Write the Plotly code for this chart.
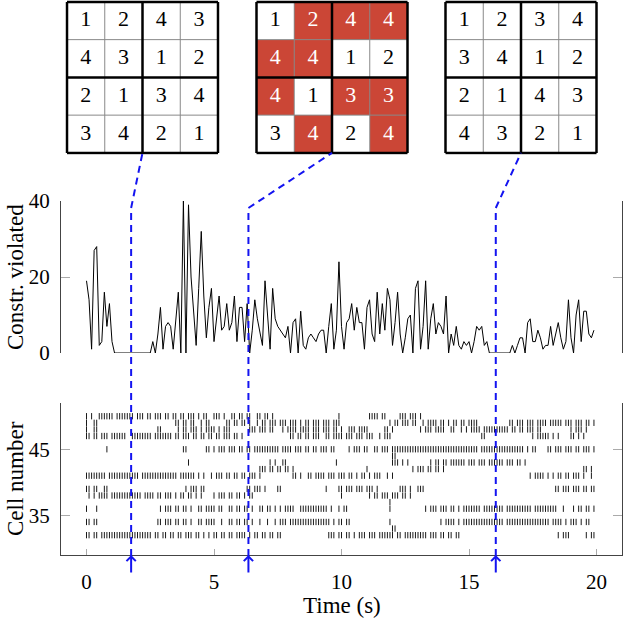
import plotly.graph_objects as go

W, H = 624, 620
RED = "#CB4636"
BLUE = "#1414F0"
SERIF = "Liberation Serif"

# three snapshots of the 4x4 board (values and violated cells)
board_start = [[1, 2, 4, 3], [4, 3, 1, 2], [2, 1, 3, 4], [3, 4, 2, 1]]
board_middle = [[1, 2, 4, 4], [4, 4, 1, 2], [4, 1, 3, 3], [3, 4, 2, 4]]
board_end = [[1, 2, 3, 4], [3, 4, 1, 2], [2, 1, 4, 3], [4, 3, 2, 1]]
violated_start = [[0, 0, 0, 0], [0, 0, 0, 0], [0, 0, 0, 0], [0, 0, 0, 0]]
violated_middle = [[0, 1, 1, 1], [1, 1, 0, 0], [1, 0, 1, 1], [0, 1, 0, 1]]
violated_end = [[0, 0, 0, 0], [0, 0, 0, 0], [0, 0, 0, 0], [0, 0, 0, 0]]
snapshot_times = [1.75, 6.35, 16.05]

# constraints violated, sampled every 0.1 s
sample_step = 0.1
constr_violated = [
    19, 14, 1, 27, 28, 2, 3, 16, 7, 13, 3,
    0, 0, 0, 0, 0, 0, 0, 0, 0, 0, 0, 0, 0, 0, 0,
    3, 0, 5, 12, 1, 7, 8, 7, 1, 9, 16, 0, 40, 0, 39,
    20, 10, 2, 17, 32, 15, 4, 12, 17, 3, 10, 15, 6, 7, 13, 6, 8, 15, 3, 12,
    12, 3, 13, 0, 6, 14, 9, 5, 2, 19, 9, 1, 17, 9, 7, 6, 5, 4, 7, 0, 8, 9, 0,
    11, 2, 1, 4, 5, 4, 3, 5, 6, 6, 0, 7, 13, 1, 6, 24,
    7, 1, 8, 9, 13, 6, 12, 8, 8, 1, 12, 14, 5, 3, 16, 5, 13, 6, 17, 14,
    2, 8, 16, 5, 0, 4, 9, 10, 0, 17, 19, 1, 7, 19, 1, 9, 13, 5, 8, 7,
    5, 15, 0, 5, 2, 7, 2, 1, 3, 2, 3, 0, 3, 7, 6, 7, 2, 3, 0, 0,
    0, 0, 0, 0, 0, 0, 0, 2, 0, 2, 4, 4, 0, 8, 9, 3, 3, 6, 4, 1,
    2, 2, 7, 2, 5, 8, 4, 1, 3, 14, 4, 0, 10, 14, 3, 11, 11, 5, 4, 6,
]

# spike raster: (first 0.1 s bin, pattern) per cell, '1' = spike
cell_50 = [(0, "1.1..111111.1111111.111.11.111.11.11.11.111.1.11"), (50, "111.1..11.11.11..11.11.1"),
           (99, "1"), (111, "1111.11"), (123, "111.111.1")]
cell_49 = [(0, "1..11"), (35, "11.11.11..1.11"), (55, "11.11.11.1"), (67, "1.11.111.111.111.1.11.111.111.111"),
           (119, "1.11.111.11..1.1111.11.1.11.11.1111"), (166, "11.111.111.1111.11111.111.111.11.1")]
cell_48 = [(0, "1..11"), (28, "11"), (36, "1.11.111.1.1111.1.111"), (64, "111.111.11...1.1111.1111.111.111.11"),
           (100, "1..111.1111"), (117, "11.1"), (131, "1.111.1111..11..1.1.1111.1111111111.11.11.111.11"),
           (190, "1.111.1")]
cell_47 = [(0, "11.11.111.111111..11111111.1111111.11.111.11.11"), (48, "11.11.111.11.1"),
           (80, "11.11.11.111..11.11"), (99, "11.111.111.111..1.111"), (155, "11"), (175, "1.11111.1.1"),
           (190, "11.1.1")]
cell_45 = [(8, "1"), (38, "11"), (47, "11"), (50, "1.111.111.11.11.1111111111.1111.111.11.11.111.11"),
           (103, "1.111.11..11.111.111111111"), (129, "11111111111111111111"),
           (149, "11111.11111111111111111.1.11"), (181, "11.111.111.11.111.1")]
cell_44 = [(120, "11")]
cell_43 = [(40, "1"), (72, "1.1..11"), (98, "1"), (120, "111.1.1"), (135, "1.11.11.111111.111.111.111111.111.11.1")]
cell_42 = [(68, "111.11.11.11.1"), (110, "1"), (128, "1.111.11.11.1"), (195, "11.1")]
cell_41 = [(0, "11111111.111111111111.11111111111111.111111.1.1"), (49, "1.111.11.11.11.111.1"), (81, "11.1"),
           (87, "11.1111.111.11"), (101, "1.11.1.11.1.111..1.1"), (174, "1.1111.1.1.11.11.111.1..1")]
cell_39 = [(0, "11.11..11"), (39, "1.111.11"), (63, "11.111.1"), (75, "11"), (94, "1"),
           (99, "11.111.111.111.1"), (123, "111.1..111"), (184, "11.111.111.11.11")]
cell_38 = [(1, "1.1.1111.111111111111.1111.11.111.1.11.11.1.1"), (50, "1.111.11.11.1.11"), (100, "1"),
           (111, "1.11.111.111.11.1")]
cell_37 = [(119, "1")]
cell_36 = [(0, "1...1"), (29, "1.111.11.11.1..11.111"), (50, "1.11..11.11.11.1..11.11.1.1.1111..11111111111.1"),
           (99, "1.11"), (119, "1"), (133, "1.111.111.11.1.11"), (150, "11111.11111111.1111111111.111111111"),
           (187, "1...1.11.11.1")]
cell_34 = [(0, "11.11"), (28, "11.111.11.11.1..11.111"), (50, "1..1..11.11.11.1..1..1..1.111.1111111111111111.1"),
           (99, "11.11"), (119, "1"), (139, "1.1111.1.11"), (150, "11111111111111.11111111111111111.1111.1.111.1.11")]
cell_33 = [(120, "11")]
cell_32 = [(0, "11.11.11111111111111111111.11.11.11.11.111.11.1"), (48, "1.11.11.11.1111.1.11.11.11.11"),
           (95, "111.11.11.1.111.111.111111.11.111111111.111.11.11.11"), (185, "1.111"), (196, "1.11")]

raster = [(50, cell_50), (49, cell_49), (48, cell_48), (47, cell_47), (45, cell_45), (44, cell_44),
          (43, cell_43), (42, cell_42), (41, cell_41), (39, cell_39), (38, cell_38), (37, cell_37),
          (36, cell_36), (34, cell_34), (33, cell_33), (32, cell_32)]


def px_x(p):
    return p / W


def px_y(p):
    return 1 - p / H


# panel placement (pixels)
x_dom = [px_x(61), px_x(622)]
x_rng = [-1, 21]


def t_to_paper(t):
    return x_dom[0] + (t - x_rng[0]) / (x_rng[1] - x_rng[0]) * (x_dom[1] - x_dom[0])


fig = go.Figure()

# constraint trace
times = [i * sample_step for i in range(len(constr_violated))]
fig.add_trace(go.Scatter(x=times, y=constr_violated, mode="lines",
                         line=dict(color="black", width=1), xaxis="x", yaxis="y",
                         hoverinfo="skip", showlegend=False))

# raster
spk_t, spk_c = [], []
for cell, segs in raster:
    for start, pat in segs:
        for j, ch in enumerate(pat):
            if ch == "1":
                spk_t.append((start + j) * sample_step)
                spk_c.append(cell)
fig.add_trace(go.Scatter(x=spk_t, y=spk_c, mode="markers", xaxis="x2", yaxis="y2",
                         marker=dict(symbol="line-ns", size=4.5, color="black",
                                     line=dict(width=0.9, color="black")),
                         hoverinfo="skip", showlegend=False))

axis_common = dict(showgrid=False, zeroline=False, linecolor="#444", linewidth=1,
                   tickcolor="#aaa", tickfont=dict(family=SERIF, size=21, color="black"))

fig.update_layout(
    width=W, height=H, margin=dict(l=0, r=0, t=0, b=0, autoexpand=False),
    plot_bgcolor="white", paper_bgcolor="white", showlegend=False,
    xaxis=dict(domain=x_dom, range=x_rng, anchor="y", showline=False, showticklabels=False,
               ticks="", showgrid=False, zeroline=False),
    yaxis=dict(domain=[px_y(353), px_y(201)], range=[0, 40], anchor="x", tickvals=[0, 20, 40],
               showline=True, mirror="ticks", ticks="inside", ticklen=9, ticklabelstandoff=6,
               **axis_common),
    xaxis2=dict(domain=x_dom, range=x_rng, anchor="y2", tickvals=[0, 5, 10, 15, 20],
                showline=True, ticks="inside", ticklen=6, ticklabelstandoff=8, **axis_common),
    yaxis2=dict(domain=[px_y(555), px_y(403)], range=[29, 52], anchor="x2", tickvals=[35, 45],
                showline=True, mirror="ticks", ticks="inside", ticklen=9, ticklabelstandoff=6,
                **axis_common),
)

# the three boards
boards = [(board_start, violated_start, 142.5), (board_middle, violated_middle, 332),
          (board_end, violated_end, 521)]
cell_px = 37.75
half = 2.05 * cell_px
shapes = []
for i, (vals, bad, cx) in enumerate(boards):
    n = i + 3
    xa, ya = "x%d" % n, "y%d" % n
    fig.update_layout(**{
        "xaxis%d" % n: dict(domain=[px_x(cx - half), px_x(cx + half)], range=[-0.55, 3.55],
                            visible=False, anchor=ya),
        "yaxis%d" % n: dict(domain=[px_y(2 * half), 1], range=[3.55, -0.55], visible=False, anchor=xa),
    })
    fig.add_trace(go.Heatmap(z=bad, x=[0, 1, 2, 3], y=[0, 1, 2, 3], zmin=0, zmax=1,
                             colorscale=[[0, "white"], [1, RED]], showscale=False,
                             xaxis=xa, yaxis=ya, hoverinfo="skip"))
    tx, ty, tt, tc = [], [], [], []
    for r in range(4):
        for c in range(4):
            tx.append(c)
            ty.append(r)
            tt.append(str(vals[r][c]))
            tc.append("white" if bad[r][c] else "black")
    fig.add_trace(go.Scatter(x=tx, y=ty, text=tt, mode="text", xaxis=xa, yaxis=ya,
                             textfont=dict(family=SERIF, size=22, color=tc),
                             hoverinfo="skip", showlegend=False))
    for thick in (False, True):
        for b in range(5):
            is_thick = b in (0, 2, 4)
            if is_thick != thick:
                continue
            st = dict(color="black", width=2.5) if thick else dict(color="#888", width=1)
            shapes.append(dict(type="line", xref=xa, yref=ya, x0=b - 0.5, x1=b - 0.5,
                               y0=-0.5, y1=3.5, line=st))
            shapes.append(dict(type="line", xref=xa, yref=ya, y0=b - 0.5, y1=b - 0.5,
                               x0=-0.5, x1=3.5, line=st))

# dashed connectors from the time axis to each board
annotations = []
for t, (_, _, cx) in zip(snapshot_times, boards):
    dash = dict(color=BLUE, width=2, dash="7px,5px")
    shapes.append(dict(type="line", xref="x2", yref="paper", x0=t, x1=t,
                       y0=px_y(556), y1=px_y(208), line=dash))
    shapes.append(dict(type="line", xref="paper", yref="paper", x0=t_to_paper(t), x1=px_x(cx),
                       y0=px_y(208), y1=px_y(2 * half - 0.05 * cell_px), line=dash))
    annotations.append(dict(x=t, y=29, xref="x2", yref="y2", text="", showarrow=True,
                            ax=0, ay=19, arrowhead=4, arrowsize=0.9, arrowwidth=2,
                            arrowcolor=BLUE))

title_font = dict(family=SERIF, size=23, color="black")
annotations += [
    dict(x=px_x(15), y=px_y(277), xref="paper", yref="paper", text="Constr. violated",
         textangle=-90, showarrow=False, font=title_font, xanchor="center", yanchor="middle"),
    dict(x=px_x(15), y=px_y(479), xref="paper", yref="paper", text="Cell number",
         textangle=-90, showarrow=False, font=title_font, xanchor="center", yanchor="middle"),
    dict(x=px_x(342), y=px_y(605), xref="paper", yref="paper", text="Time (s)",
         showarrow=False, font=title_font, xanchor="center", yanchor="middle"),
]
fig.update_layout(shapes=shapes, annotations=annotations)

fig.write_html("out.html", config={"displayModeBar": False},
               post_script="document.body.style.margin='0';")
